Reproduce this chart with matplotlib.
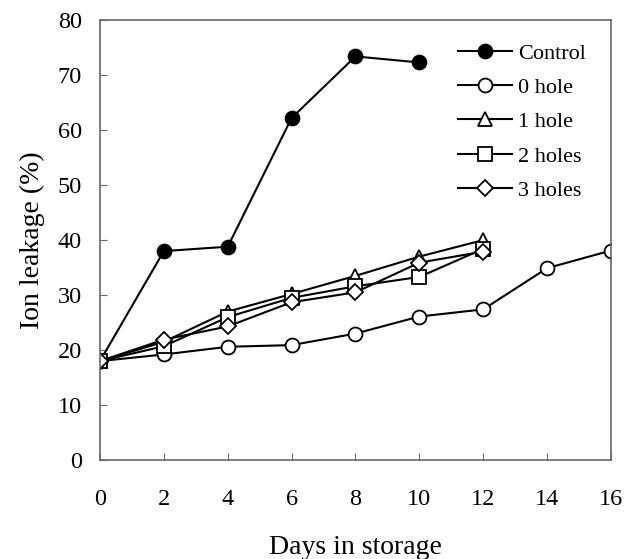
import numpy as np
import matplotlib.pyplot as plt

plt.rcParams['font.family'] = ['Liberation Serif', 'DejaVu Serif']

# Data
days_control = [0, 2, 4, 6, 8, 10]
control = [18.0, 38.0, 38.8, 62.2, 73.4, 72.3]

days_0hole = [0, 2, 4, 6, 8, 10, 12, 14, 16]
hole0 = [18.0, 19.2, 20.6, 20.9, 23.0, 26.1, 27.4, 34.9, 38.1]

days_holes = [0, 2, 4, 6, 8, 10, 12]
hole1 = [18.0, 21.5, 27.0, 30.2, 33.5, 37.0, 40.0]
hole2 = [18.0, 20.7, 26.0, 29.5, 31.6, 33.3, 38.4]
hole3 = [18.0, 21.9, 24.3, 28.7, 30.5, 35.9, 37.9]

xticks = [0, 2, 4, 6, 8, 10, 12, 14, 16]
yticks = [0, 10, 20, 30, 40, 50, 60, 70, 80]

fig = plt.figure(figsize=(6.34, 5.59), dpi=100)
ax = fig.add_axes([0.1577, 0.177, 0.806, 0.787])

style = dict(color='black', linewidth=1.5, markersize=10, markeredgewidth=1.3)
ax.plot(days_control, control, marker='o', markerfacecolor='black', label='Control', **style)
ax.plot(days_0hole, hole0, marker='o', markerfacecolor='white', label='0 hole', **style)
ax.plot(days_holes, hole1, marker='^', markerfacecolor='white', label='1 hole', **style)
ax.plot(days_holes, hole2, marker='s', markerfacecolor='white', label='2 holes', **style)
ax.plot(days_holes, hole3, marker='D', markerfacecolor='white', label='3 holes',
        color='black', linewidth=1.5, markersize=8, markeredgewidth=1.3)

ax.set_xlim(0, 16)
ax.set_ylim(0, 80)
ax.set_xticks(xticks)
ax.set_yticks(yticks)
for s in ax.spines.values():
    s.set_color('#666666')
    s.set_linewidth(1.2)
ax.tick_params(direction='in', length=5, color='#666666', labelsize=17.5)
ax.tick_params(axis='x', pad=21)
ax.tick_params(axis='y', pad=13)

ax.set_ylabel('Ion leakage (%)', fontsize=20, labelpad=9)
ax.set_xlabel('Days in storage', fontsize=20, labelpad=18)

ax.legend(loc='upper left', frameon=False, fontsize=16, handlelength=2.45,
          labelspacing=0.62, handletextpad=0.28, borderaxespad=0, borderpad=0,
          bbox_to_anchor=(0.70, 0.948))

plt.savefig('out.png', dpi=100)
plt.close()
